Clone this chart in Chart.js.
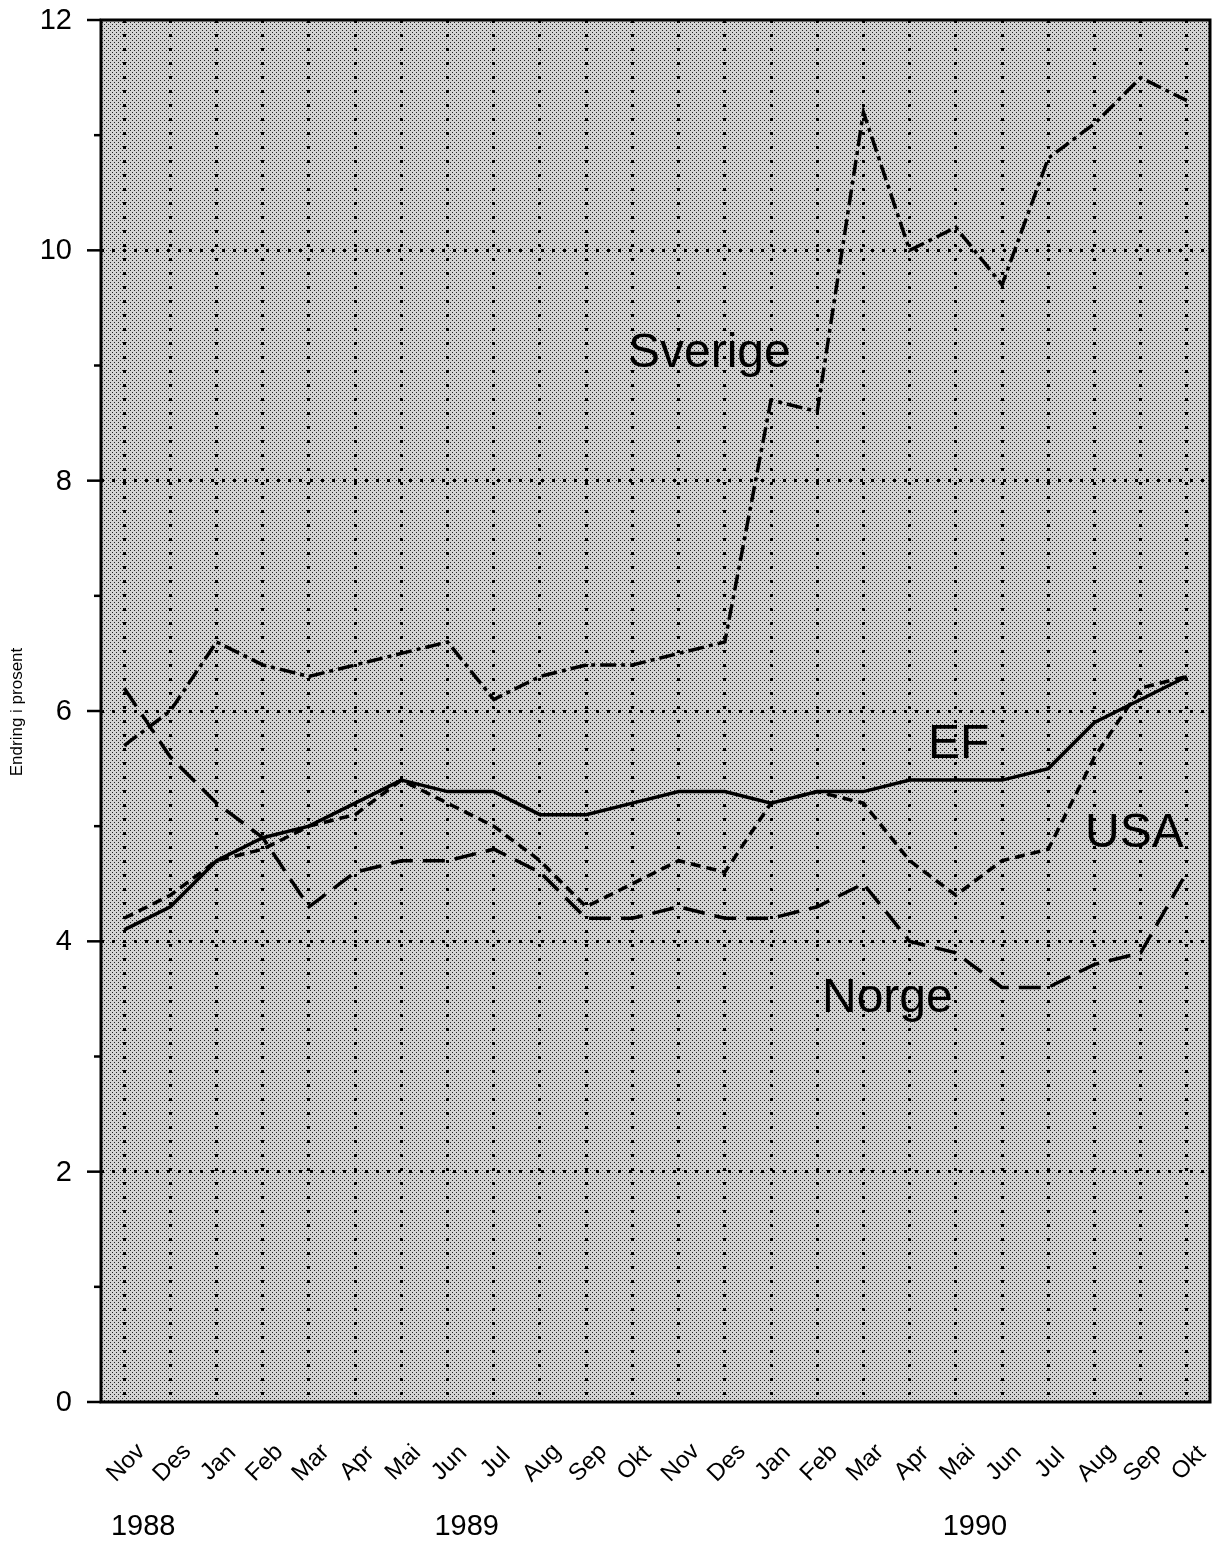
<!DOCTYPE html>
<html>
<head>
<meta charset="utf-8">
<script src="https://cdn.jsdelivr.net/npm/chart.js@4/dist/chart.umd.min.js"></script>
<style>
  body { margin: 0; background: #fff; }
</style>
</head>
<body>
<canvas id="kpiChart" width="1220" height="1543"></canvas>
<script>
const months = ["Nov", "Des", "Jan", "Feb", "Mar", "Apr", "Mai", "Jun", "Jul", "Aug", "Sep", "Okt",
                "Nov", "Des", "Jan", "Feb", "Mar", "Apr", "Mai", "Jun", "Jul", "Aug", "Sep", "Okt"];
const years = ["1988", "1988",
               "1989", "1989", "1989", "1989", "1989", "1989", "1989", "1989", "1989", "1989", "1989", "1989",
               "1990", "1990", "1990", "1990", "1990", "1990", "1990", "1990", "1990", "1990"];
const yTicks = [0, 2, 4, 6, 8, 10, 12];

const ef      = [4.1, 4.3, 4.7, 4.9, 5.0, 5.2, 5.4, 5.3, 5.3, 5.1, 5.1, 5.2, 5.3, 5.3, 5.2, 5.3, 5.3, 5.4, 5.4, 5.4, 5.5, 5.9, 6.1, 6.3];
const usa     = [4.2, 4.4, 4.7, 4.8, 5.0, 5.1, 5.4, 5.2, 5.0, 4.7, 4.3, 4.5, 4.7, 4.6, 5.2, 5.3, 5.2, 4.7, 4.4, 4.7, 4.8, 5.6, 6.2, 6.3];
const norge   = [6.2, 5.6, 5.2, 4.9, 4.3, 4.6, 4.7, 4.7, 4.8, 4.6, 4.2, 4.2, 4.3, 4.2, 4.2, 4.3, 4.5, 4.0, 3.9, 3.6, 3.6, 3.8, 3.9, 4.6];
const sverige = [5.7, 6.0, 6.6, 6.4, 6.3, 6.4, 6.5, 6.6, 6.1, 6.3, 6.4, 6.4, 6.5, 6.6, 8.7, 8.6, 11.2, 10.0, 10.2, 9.7, 10.8, 11.1, 11.5, 11.3];

const FONT = "'Liberation Sans', Arial, Helvetica, sans-serif";

// stippled grey fill for the plot area
function makeStipple() {
  const c = document.createElement("canvas");
  c.width = 4; c.height = 4;
  const g = c.getContext("2d");
  g.fillStyle = "#d2d2d2";
  g.fillRect(0, 0, 4, 4);
  g.fillStyle = "#222";
  g.fillRect(0, 0, 1, 1);
  g.fillRect(2, 2, 1, 1);
  return c;
}

const decorPlugin = {
  id: "decor",
  beforeDraw(chart) {
    const ctx = chart.ctx;
    const a = chart.chartArea;
    ctx.save();
    ctx.fillStyle = "#fff";
    ctx.fillRect(0, 0, chart.width, chart.height);
    ctx.fillStyle = ctx.createPattern(makeStipple(), "repeat");
    ctx.fillRect(a.left, a.top, a.right - a.left, a.bottom - a.top);
    ctx.restore();
  },
  afterDraw(chart) {
    const ctx = chart.ctx;
    const a = chart.chartArea;
    const xs = chart.scales.x;
    const ys = chart.scales.y;
    ctx.save();

    // frame
    ctx.strokeStyle = "#000";
    ctx.lineWidth = 3;
    ctx.strokeRect(a.left, a.top, a.right - a.left, a.bottom - a.top);

    // y tick marks: long on even values, short on odd
    ctx.lineWidth = 2.5;
    for (let v = 0; v <= 12; v++) {
      const y = ys.getPixelForValue(v);
      const len = v % 2 === 0 ? 14 : 7;
      ctx.beginPath();
      ctx.moveTo(a.left - len, y);
      ctx.lineTo(a.left, y);
      ctx.stroke();
    }

    ctx.fillStyle = "#000";

    // y tick labels
    ctx.font = "29px " + FONT;
    ctx.textAlign = "right";
    ctx.textBaseline = "middle";
    yTicks.forEach(v => ctx.fillText(String(v), 72, ys.getPixelForValue(v) + 1));

    // rotated month labels
    ctx.font = "24px " + FONT;
    ctx.textAlign = "center";
    months.forEach((m, i) => {
      const x = xs.getPixelForTick(i);
      ctx.save();
      ctx.translate(x + 2, a.bottom + 61);
      ctx.rotate(-Math.PI / 4);
      ctx.fillText(m, 0, 0);
      ctx.restore();
    });

    // year labels, centred under their months
    ctx.font = "29px " + FONT;
    const seen = [...new Set(years)];
    seen.forEach(yr => {
      const first = years.indexOf(yr);
      const last = years.lastIndexOf(yr);
      const x = (xs.getPixelForTick(first) + xs.getPixelForTick(last)) / 2;
      ctx.fillText(yr, x - 4, a.bottom + 125);
    });

    // axis title
    ctx.font = "17px " + FONT;
    ctx.save();
    ctx.translate(17, 712);
    ctx.rotate(-Math.PI / 2);
    ctx.fillText("Endring i prosent", 0, 0);
    ctx.restore();

    // series names
    ctx.font = "48px " + FONT;
    ctx.textAlign = "left";
    ctx.textBaseline = "alphabetic";
    ctx.fillText("Sverige", 628, 367);
    ctx.fillText("EF", 928, 758);
    ctx.fillText("USA", 1085, 847);
    ctx.fillText("Norge", 822, 1012);

    ctx.restore();
  }
};

const lineStyle = { borderColor: "#000", borderWidth: 3.5, pointRadius: 0, tension: 0, fill: false };

new Chart(document.getElementById("kpiChart"), {
  type: "line",
  data: {
    labels: months,
    datasets: [
      Object.assign({ label: "EF", data: ef, borderDash: [] }, lineStyle),
      Object.assign({ label: "USA", data: usa, borderDash: [10, 6] }, lineStyle),
      Object.assign({ label: "Norge", data: norge, borderDash: [22, 10] }, lineStyle),
      Object.assign({ label: "Sverige", data: sverige, borderDash: [16, 5, 4, 5] }, lineStyle)
    ]
  },
  options: {
    responsive: false,
    animation: false,
    devicePixelRatio: 1,
    layout: { padding: { top: 20, right: 10, left: 0, bottom: 0 } },
    plugins: {
      legend: { display: false },
      tooltip: { enabled: false }
    },
    scales: {
      x: {
        offset: true,
        ticks: { display: false },
        grid: { color: "#000", lineWidth: 3, drawTicks: false },
        border: { display: false, dash: [3, 11] },
        afterFit(scale) { scale.height = 141; }
      },
      y: {
        min: 0,
        max: 12,
        ticks: { stepSize: 1, display: false },
        grid: {
          drawTicks: false,
          lineWidth: 3,
          color: c => (c.tick && c.tick.value % 2 === 0 && c.tick.value > 0 && c.tick.value < 12 ? "#000" : "rgba(0,0,0,0)")
        },
        border: { display: false, dash: [3, 8] },
        afterFit(scale) { scale.width = 101; }
      }
    }
  },
  plugins: [decorPlugin]
});
</script>
</body>
</html>
